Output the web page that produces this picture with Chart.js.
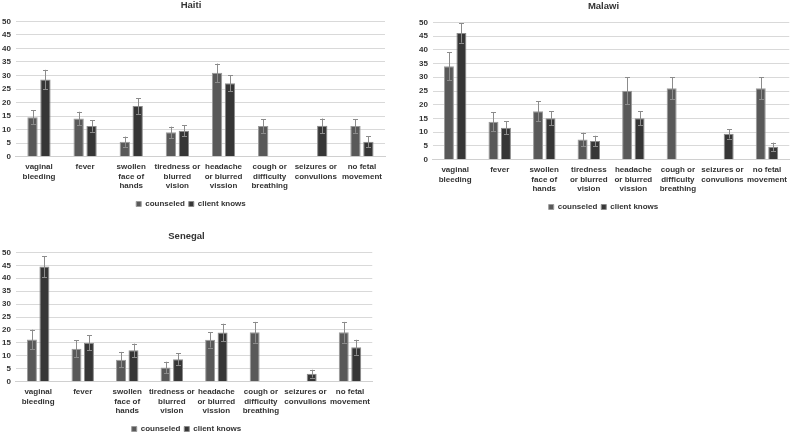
<!DOCTYPE html>
<html><head><meta charset="utf-8">
<script src="https://cdn.jsdelivr.net/npm/chart.js@4.4.0/dist/chart.umd.min.js"></script>
<style>
html,body{margin:0;padding:0;background:#fff;width:793px;height:434px;overflow:hidden;position:relative}
.box{position:absolute}
</style></head><body>
<div class="box" style="left:0;top:0;width:393px;height:222px"><canvas id="c1"></canvas></div>
<div class="box" style="left:395px;top:0;width:398px;height:225px"><canvas id="c2"></canvas></div>
<div class="box" style="left:0;top:231px;width:376px;height:212px"><canvas id="c3"></canvas></div>
<script>
const seriesNames = ["counseled", "client knows"];
const catsA = [["vaginal","bleeding"],["fever"],["swollen","face of","hands"],["tiredness or","blurred","vision"],["headache","or blurred","vission"],["cough or","difficulty","breathing"],["seizures or","convulions"],["no fetal","movement"]];
const catsMalawi = [["vaginal","bleeding"],["fever"],["swollen","face of","hands"],["tiredness","or blurred","vision"],["headache","or blurred","vission"],["cough or","difficulty","breathing"],["seizures or","convulions"],["no fetal","movement"]];
const yTicks = [0,5,10,15,20,25,30,35,40,45,50];

const haitiCounseled = [14.6, 14.1, 5.5, 9.0, 31.0, 11.3, null, 11.3];
const haitiCounseledErr = [2.5, 2.5, 1.9, 2.1, 3.4, 2.5, null, 2.5];
const haitiKnows = [28.5, 11.3, 18.7, 9.6, 27.1, null, 11.4, 5.5];
const haitiKnowsErr = [3.6, 2.1, 2.9, 2.1, 3.0, null, 2.7, 2.0];

const malawiCounseled = [34.0, 13.8, 17.6, 7.3, 25.1, 26.0, null, 26.0];
const malawiCounseledErr = [5.1, 3.5, 3.7, 2.5, 4.9, 4.0, null, 4.0];
const malawiKnows = [46.1, 11.6, 15.1, 6.8, 15.1, null, 9.4, 4.7];
const malawiKnowsErr = [3.5, 2.3, 2.6, 1.9, 2.6, null, 1.7, 1.5];

const senegalCounseled = [16.3, 12.7, 8.5, 5.5, 16.2, 19.1, null, 19.1];
const senegalCounseledErr = [3.8, 3.3, 3.0, 2.2, 3.0, 4.0, null, 4.0];
const senegalKnows = [44.5, 15.0, 12.1, 8.7, 19.0, null, 3.1, 13.3];
const senegalKnowsErr = [4.0, 2.9, 2.6, 2.2, 3.4, null, 1.5, 2.9];

const colCounseled = '#595959';
const colKnows = '#363636';
const textCol = '#333333';

const errorBars = {
  id: 'errorBars',
  afterDatasetsDraw(chart) {
    const ctx = chart.ctx, ys = chart.scales.y;
    ctx.save();
    chart.data.datasets.forEach((ds, i) => {
      const meta = chart.getDatasetMeta(i);
      meta.data.forEach((bar, j) => {
        const v = ds.data[j], e = ds.errors[j];
        if (v == null || e == null) return;
        const x = Math.round(bar.x) + 0.5;
        const t = ys.getPixelForValue(v + e), b = ys.getPixelForValue(v - e);
        ctx.strokeStyle = '#8c8c8c';
        ctx.lineWidth = 1;
        ctx.beginPath();
        ctx.moveTo(x, t); ctx.lineTo(x, b);
        ctx.moveTo(x - 2.5, Math.round(t) + 0.5); ctx.lineTo(x + 2.5, Math.round(t) + 0.5);
        ctx.moveTo(x - 2.5, Math.round(b) + 0.5); ctx.lineTo(x + 2.5, Math.round(b) + 0.5);
        ctx.stroke();
      });
    });
    ctx.restore();
  }
};

function makeChart(id, title, cats, c, ce, k, ke, pad) {
  return new Chart(document.getElementById(id), {
    type: 'bar',
    data: {
      labels: cats,
      datasets: [
        { label: seriesNames[0], data: c, errors: ce, backgroundColor: colCounseled, borderColor: '#9a9a9a', borderWidth: 1, categoryPercentage: 0.56, barPercentage: 0.8 },
        { label: seriesNames[1], data: k, errors: ke, backgroundColor: colKnows, borderColor: '#8a8a8a', borderWidth: 1, categoryPercentage: 0.56, barPercentage: 0.8 }
      ]
    },
    options: {
      responsive: true, maintainAspectRatio: false, animation: false,
      layout: { padding: pad },
      plugins: {
        title: { display: true, text: title, color: textCol, font: { family: 'Liberation Sans', size: 9.5, weight: 'bold' }, padding: { top: 0, bottom: 10 } },
        legend: { position: 'bottom', labels: { boxWidth: 5, boxHeight: 5, color: textCol, font: { family: 'Liberation Sans', size: 8, weight: 'bold' }, padding: 4 } },
        tooltip: { enabled: false }
      },
      scales: {
        x: {
          grid: { display: false, drawTicks: false },
          border: { color: '#d0d0d0' },
          ticks: { maxRotation: 0, autoSkip: false, color: textCol, font: { family: 'Liberation Sans', size: 8, weight: 'bold', lineHeight: 1.14 }, padding: 6 }
        },
        y: {
          min: 0, max: 50,
          afterBuildTicks: (s) => { s.ticks = yTicks.map(v => ({ value: v })); },
          grid: { color: '#d9d9d9', drawTicks: false },
          border: { display: false },
          ticks: { autoSkip: false, color: textCol, font: { family: 'Liberation Sans', size: 8, weight: 'bold' }, padding: 5 }
        }
      }
    },
    plugins: [errorBars]
  });
}

makeChart('c1', 'Haiti', catsA, haitiCounseled, haitiCounseledErr, haitiKnows, haitiKnowsErr, { left: -3, right: 8, top: 0, bottom: 4 });
makeChart('c2', 'Malawi', catsMalawi, malawiCounseled, malawiCounseledErr, malawiKnows, malawiKnowsErr, { left: 19, right: 0, top: 1, bottom: 4 });
makeChart('c3', 'Senegal', catsA, senegalCounseled, senegalCounseledErr, senegalKnows, senegalKnowsErr, { left: -3, right: 0, top: 0, bottom: 0 });
</script>
</body></html>
